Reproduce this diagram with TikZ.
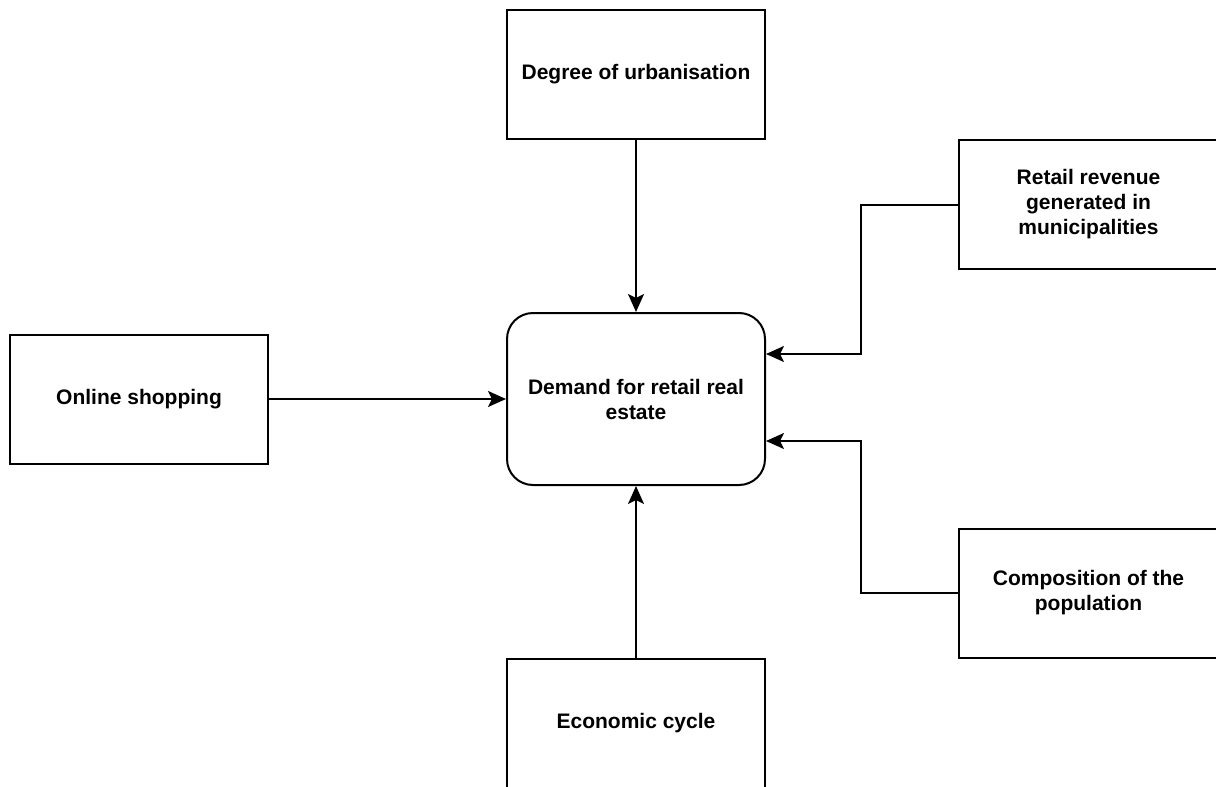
\documentclass[tikz,border=0pt]{standalone}
\usepackage{fontspec}
\setmainfont{Liberation Sans}
\usetikzlibrary{arrows.meta}
\begin{document}
\begin{tikzpicture}[x=1pt,y=-1pt,
  box/.style={draw=black, line width=2pt, fill=white, minimum width=258pt, minimum height=129pt,
    align=center, inner sep=4pt, font=\fontsize{21}{25}\selectfont\bfseries},
  mainbox/.style={box, rounded corners=26pt, minimum height=172pt},
  conn/.style={draw=black, line width=2pt, -{Stealth[length=18pt,width=16pt,inset=4pt]}}
]
\clip (0,0) rectangle (1216,787);
\fill[white] (0,0) rectangle (1216,787);
\node[mainbox] (demand) at (636,399) {Demand for retail real\\estate};
\node[box] (urban) at (636,74) {Degree of urbanisation};
\node[box] (online) at (139,399) {Online shopping};
\node[box] (econ) at (636,723) {Economic cycle};
\node[box, minimum width=259pt] (retail) at (1088.5,204.5) {Retail revenue\\generated in\\municipalities};
\node[box, minimum width=259pt] (comp) at (1088.5,593) {Composition of the\\population};
\draw[conn] (urban.south) -- (demand.north);
\draw[conn] (online.east) -- (demand.west);
\draw[conn] (econ.north) -- (demand.south);
\draw[conn] (retail.west) -- ++(-97,0) |- ([yshift=45pt]demand.east);
\draw[conn] (comp.west) -- ++(-97,0) |- ([yshift=-42pt]demand.east);
\end{tikzpicture}
\end{document}
